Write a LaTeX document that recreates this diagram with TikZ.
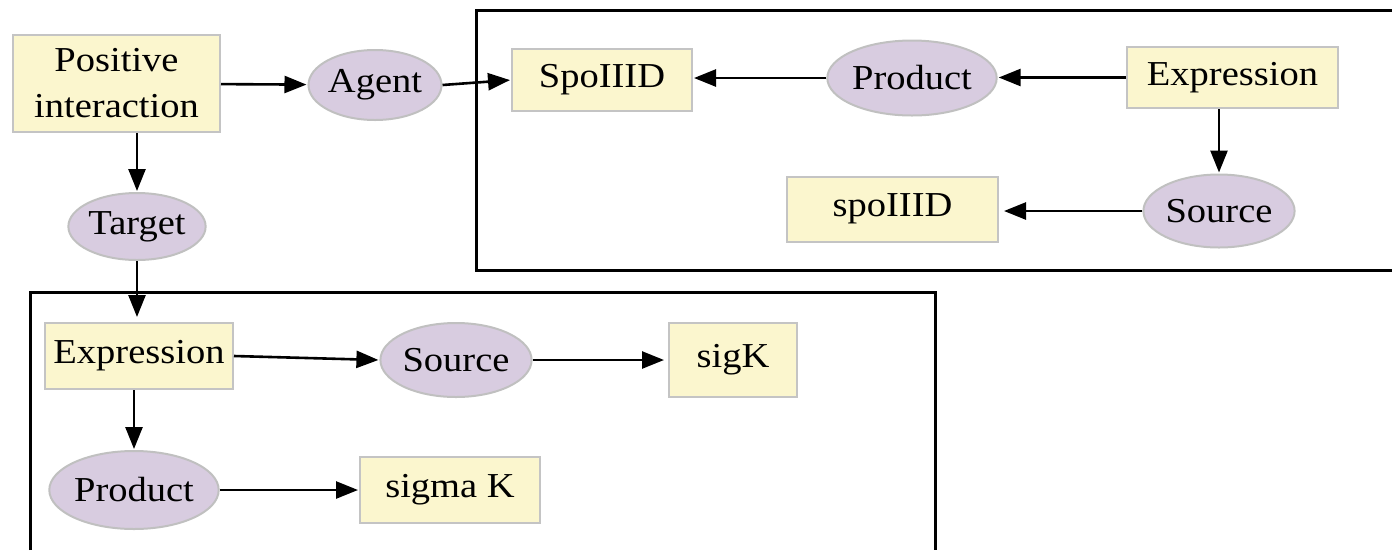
\documentclass[tikz,border=0pt]{standalone}
\usepackage{fontspec}
\setmainfont{Liberation Serif}[FakeStretch=1.1]
\usetikzlibrary{shapes.geometric,arrows.meta}

\definecolor{boxfill}{RGB}{251,246,206}
\definecolor{boxline}{RGB}{196,196,196}
\definecolor{ovalfill}{RGB}{216,204,224}
\definecolor{ovalline}{RGB}{192,192,192}

\tikzset{
  every node/.style={font=\fontsize{35}{40}\selectfont, text=black},
  termbox/.style={rectangle, draw=boxline, fill=boxfill, line width=2pt, inner sep=0pt},
  roleoval/.style={ellipse, draw=ovalline, fill=ovalfill, line width=2pt, inner sep=0pt},
  conn/.style={line width=2.6pt, -{Triangle[length=22pt,width=17pt]}, shorten >=1pt},
  frame/.style={line width=3pt}
}

\begin{document}
\begin{tikzpicture}[x=1pt,y=-1pt]
  \useasboundingbox (0,0) rectangle (1392,550);

  % group frames (open on the clipped side)
  \draw[frame] (1392,10) -- (476,10) -- (476,270) -- (1392,270);
  \draw[frame] (30,550) -- (30,292) -- (935,292) -- (935,550);

  % interaction and its roles
  \node[termbox, minimum width=207pt, minimum height=97pt, align=center,
        font=\fontsize{35}{46}\selectfont] (pos) at (116.5,83.5) {Positive\\interaction};
  \node[roleoval, minimum width=124pt, minimum height=70pt] (agent) at (375,85) {Agent};
  \node[roleoval, minimum width=127pt, minimum height=67pt] (tgt) at (137,226.5) {Target};

  % agent group
  \node[termbox, minimum width=180pt, minimum height=62pt] (spo) at (602,80) {SpoIIID};
  \node[roleoval, minimum width=161pt, minimum height=75pt] (prod1) at (912,78) {Product};
  \node[termbox, minimum width=211pt, minimum height=61pt] (ex1) at (1232.5,77.5) {Expression};
  \node[roleoval, minimum width=146pt, minimum height=73pt] (src1) at (1219,211) {Source};
  \node[termbox, minimum width=211pt, minimum height=65pt] (spo2) at (892.5,209) {spoIIID};

  % target group
  \node[termbox, minimum width=188pt, minimum height=66pt] (ex2) at (139,356) {Expression};
  \node[roleoval, minimum width=138pt, minimum height=74pt] (src2) at (456,360) {Source};
  \node[termbox, minimum width=128pt, minimum height=74pt] (sigk) at (733,360) {sigK};
  \node[roleoval, minimum width=158pt, minimum height=78pt] (prod2) at (134,490) {Product};
  \node[termbox, minimum width=180pt, minimum height=66pt] (sigma) at (450,490) {sigma K};

  % connectors
  \draw[conn] (pos) -- (agent);
  \draw[conn] (tgt.north |- pos.south) -- (tgt.north);
  \draw[conn] (agent.east) -- (spo.west);
  \draw[conn] (ex1.west) -- (ex1.west -| prod1.east);
  \draw[conn] (prod1.west) -- (prod1.west -| spo.east);
  \draw[conn] (src1.north |- ex1.south) -- (src1.north);
  \draw[conn, shorten >=5pt] (src1.west) -- (src1.west -| spo2.east);
  \draw[conn, shorten >=5pt] (tgt.south) -- (tgt.south |- ex2.north);
  \draw[conn] (ex2.east) -- (src2.west);
  \draw[conn, shorten >=4pt] (src2.east) -- (src2.east -| sigk.west);
  \draw[conn] (prod2.north |- ex2.south) -- (prod2.north);
  \draw[conn] (prod2.east) -- (prod2.east -| sigma.west);
\end{tikzpicture}
\end{document}
